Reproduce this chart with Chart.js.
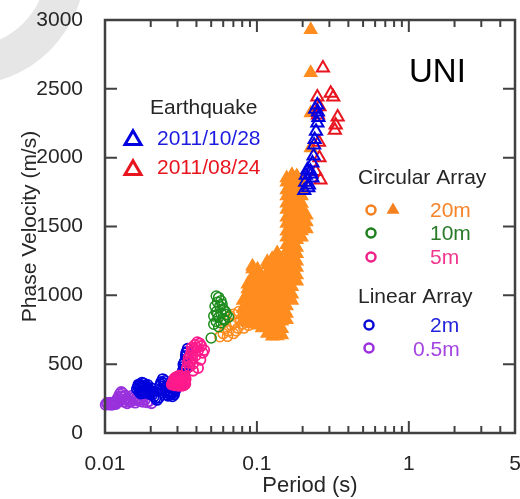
<!DOCTYPE html>
<html>
<head>
<meta charset="utf-8">
<title>UNI phase velocity</title>
<script src="https://cdn.jsdelivr.net/npm/chart.js@4/dist/chart.umd.min.js"></script>
<style>
  html, body { margin: 0; padding: 0; background: #fff; overflow: hidden; }
  #wrap { width: 524px; height: 499px; }
</style>
</head>
<body>
<div id="wrap"><canvas id="chart" width="524" height="499"></canvas></div>
<script>
// Axis ticks
const periodTicks = [0.01, 0.02, 0.03, 0.04, 0.05, 0.06, 0.07, 0.08, 0.09,
                     0.1, 0.2, 0.3, 0.4, 0.5, 0.6, 0.7, 0.8, 0.9, 1, 2, 3, 4, 5];
const periodLabels = [0.01, 0.1, 1, 5];
const velocityTicks = [0, 500, 1000, 1500, 2000, 2500, 3000];

// Legend labels
const quakeDates = ['2011/10/28', '2011/08/24'];
const circularSpacings = ['20m', '10m', '5m'];
const linearSpacings = ['2m', '0.5m'];

// Linear array, 0.5m spacing  [period (s), phase velocity (m/s)]
const linear05m = [[0.0101, 205], [0.0104, 212], [0.0107, 206], [0.011, 218], [0.0113, 210],
  [0.0116, 224], [0.0119, 236], [0.0122, 258], [0.0125, 282], [0.0128, 298], [0.0131, 288],
  [0.0127, 266], [0.0134, 262], [0.0137, 246], [0.0141, 236], [0.0145, 252], [0.0149, 270],
  [0.0153, 256], [0.0157, 240], [0.0162, 250], [0.0167, 236], [0.0172, 246], [0.0177, 226],
  [0.0183, 240], [0.0189, 222], [0.0195, 232], [0.0202, 216], [0.0115, 214], [0.012, 222],
  [0.0108, 220], [0.0124, 230], [0.0133, 226], [0.014, 216], [0.0148, 228], [0.0158, 220],
  [0.0103, 218], [0.0111, 204], [0.0118, 210], [0.0126, 246], [0.0136, 272], [0.0144, 232]];

// Linear array, 2m spacing
const linear2m = [[0.0162, 320], [0.0165, 338], [0.017, 352], [0.0175, 366], [0.018, 360],
  [0.0185, 346], [0.019, 330], [0.0195, 312], [0.0168, 300], [0.0172, 286], [0.0178, 312],
  [0.0183, 296], [0.0188, 322], [0.0193, 290], [0.02, 302], [0.0205, 280], [0.021, 266],
  [0.0215, 254], [0.022, 240], [0.0226, 256], [0.023, 340], [0.0235, 372], [0.024, 392],
  [0.0245, 360], [0.025, 332], [0.0238, 312], [0.0255, 292], [0.026, 270], [0.0266, 286],
  [0.027, 300], [0.0276, 322], [0.028, 302], [0.0285, 280], [0.029, 310], [0.0296, 332],
  [0.0305, 352], [0.032, 420], [0.0325, 452], [0.033, 482], [0.0335, 520], [0.034, 560],
  [0.0345, 590], [0.035, 612], [0.0332, 432], [0.0338, 470], [0.0348, 540],
  [0.0166, 352], [0.0171, 326], [0.0176, 342], [0.0181, 330], [0.0186, 306], [0.0191, 350],
  [0.0174, 300], [0.0179, 290], [0.0197, 282], [0.0202, 326], [0.0208, 300], [0.0232, 356],
  [0.0242, 340], [0.0248, 378], [0.0252, 310], [0.0258, 276], [0.0263, 300], [0.0272, 280],
  [0.0278, 266], [0.0283, 296], [0.0288, 330], [0.0328, 500], [0.0342, 580], [0.0336, 450]];

// Circular array, 5m
const circular5m = [[0.0275, 352], [0.028, 372], [0.0285, 392], [0.029, 402], [0.0295, 382],
  [0.03, 362], [0.0305, 342], [0.031, 372], [0.0315, 396], [0.032, 382], [0.0325, 362],
  [0.033, 346], [0.0335, 372], [0.034, 392], [0.0288, 346], [0.0298, 410], [0.0308, 416],
  [0.0318, 352], [0.0328, 402], [0.0338, 356], [0.0302, 386], [0.0312, 350], [0.0292, 366],
  [0.0322, 410], [0.0283, 380], [0.0296, 352], [0.0306, 398], [0.0316, 368], [0.0326, 386],
  [0.0333, 410], [0.0279, 360], [0.0301, 372], [0.0311, 386], [0.0321, 342],
  [0.0345, 470], [0.035, 512], [0.0355, 546], [0.036, 522], [0.0365, 562],
  [0.037, 592], [0.0375, 542], [0.038, 502], [0.0385, 612], [0.039, 640], [0.04, 622],
  [0.041, 600], [0.042, 650], [0.043, 632], [0.044, 582], [0.045, 602], [0.036, 482],
  [0.0395, 562], [0.041, 472], [0.0425, 532], [0.038, 452], [0.0405, 660], [0.0372, 620]];

// Circular array, 10m
const circular10m = [[0.054, 995], [0.056, 985], [0.058, 960], [0.055, 950], [0.053, 920],
  [0.057, 922], [0.06, 900], [0.054, 880], [0.058, 870], [0.062, 882], [0.052, 850],
  [0.056, 840], [0.06, 830], [0.054, 810], [0.058, 800], [0.063, 860], [0.065, 842],
  [0.052, 790], [0.056, 772], [0.05, 690], [0.061, 820], [0.055, 862], [0.059, 935]];

// Circular array, 20m (circles)
const circular20m = [[0.057, 700], [0.06, 722], [0.062, 760], [0.065, 742], [0.068, 782],
  [0.07, 722], [0.072, 800], [0.075, 762], [0.078, 822], [0.08, 792], [0.083, 850],
  [0.086, 822], [0.09, 872], [0.094, 842], [0.098, 902], [0.102, 882], [0.106, 922],
  [0.11, 962], [0.115, 932], [0.12, 982], [0.125, 902], [0.064, 702], [0.073, 742],
  [0.082, 762], [0.088, 782], [0.096, 802], [0.104, 832], [0.112, 862], [0.062, 822],
  [0.066, 852], [0.07, 862], [0.076, 882], [0.085, 902], [0.092, 932], [0.1, 962], [0.108, 1002]];

// Circular array, 20m (filled triangles): velocities picked at each period
const tri20Periods = [0.081, 0.087, 0.0935, 0.101, 0.108, 0.117, 0.126, 0.136, 0.146,
                      0.157, 0.170, 0.183, 0.197, 0.212, 0.226];
const tri20Velocities = [
  [812, 858, 905, 962],
  [803, 848, 897, 955, 1004, 1046, 1080],
  [792, 843, 886, 938, 992, 1038, 1094, 1138, 1192, 1212],
  [782, 826, 884, 928, 978, 1034, 1077, 1131, 1176, 1190],
  [762, 812, 857, 912, 958, 1013, 1058, 1107, 1122],
  [722, 768, 824, 866, 921, 968, 1024, 1066, 1122, 1168, 1221, 1244],
  [702, 752, 798, 853, 898, 951, 1002, 1048, 1103, 1148, 1204, 1248, 1266],
  [704, 748, 803, 847, 902, 946, 1003, 1047, 1098, 1152, 1197, 1252, 1298, 1308],
  [712, 758, 812, 857, 908, 962, 1006, 1062, 1108, 1163, 1207, 1228],
  [822, 868, 923, 968, 1022, 1067, 1124, 1168, 1222, 1268, 1324, 1368, 1422, 1466,
   1522, 1568, 1624, 1668, 1722, 1766, 1822, 1852],
  [962, 1008, 1063, 1107, 1162, 1208, 1263, 1306, 1362, 1408, 1462, 1507, 1563, 1606,
   1662, 1707, 1762, 1808, 1862, 1876],
  [1102, 1147, 1203, 1248, 1302, 1347, 1404, 1448, 1502, 1548, 1603, 1648, 1702, 1748,
   1802, 1846, 1866],
  [1422, 1468, 1523, 1568, 1622, 1667, 1722, 1768, 1822, 1840],
  [1482, 1533, 1582],
  [2071, 2325, 2616, 2930]
];

// Earthquake records (open triangles)
const quake20111028 = [[0.25, 2382], [0.252, 2332], [0.254, 2292], [0.25, 2252], [0.245, 2192],
  [0.24, 2132], [0.238, 2092], [0.236, 2012], [0.232, 1962], [0.215, 1912], [0.225, 1902],
  [0.21, 1872], [0.232, 1852], [0.208, 1822], [0.22, 1802], [0.205, 1762], [0.218, 1782],
  [0.228, 1882], [0.242, 2352]];
const quake20110824 = [[0.272, 2652], [0.306, 2468], [0.318, 2440], [0.25, 2440], [0.258, 2370],
  [0.34, 2296], [0.33, 2238], [0.326, 2200], [0.258, 2000], [0.262, 1838], [0.252, 2310],
  [0.256, 2112], [0.244, 1900]];

const AXIS = '#404040';
const TEXT = '#262626';
const FONT = 'Liberation Sans, Arial, Helvetica, sans-serif';

const pts = arr => arr.map(([x, y]) => ({ x, y }));
const tri20 = tri20Periods.flatMap((p, i) => tri20Velocities[i].map(v => ({ x: p, y: v })));

function circleSet(data, color, lw) {
  return { data: pts(data), pointStyle: 'circle', pointRadius: 5, borderColor: color,
           backgroundColor: 'rgba(0,0,0,0)', pointBorderWidth: lw || 1.5, clip: false };
}

// triangle helper for the annotation legend
function triangle(ctx, cx, cy, w, color, filled, lw) {
  const h = w * 0.866;
  ctx.beginPath();
  ctx.moveTo(cx, cy - h * 2 / 3);
  ctx.lineTo(cx + w / 2, cy + h / 3);
  ctx.lineTo(cx - w / 2, cy + h / 3);
  ctx.closePath();
  if (filled) { ctx.fillStyle = color; ctx.fill(); }
  else { ctx.strokeStyle = color; ctx.lineWidth = lw; ctx.lineJoin = 'miter'; ctx.stroke(); }
}

function ring(ctx, cx, cy, r, color) {
  ctx.beginPath();
  ctx.arc(cx, cy, r, 0, Math.PI * 2);
  ctx.strokeStyle = color;
  ctx.lineWidth = 2.5;
  ctx.stroke();
}

const frame = {
  id: 'frame',
  beforeDraw(chart) {
    // pale arc in the corner
    const ctx = chart.ctx;
    ctx.save();
    ctx.beginPath();
    ctx.arc(-34, -34, 100, 0, Math.PI / 2);
    ctx.strokeStyle = '#e6e6e6';
    ctx.lineWidth = 38;
    ctx.stroke();
    ctx.restore();
  },
  afterDraw(chart) {
    const { ctx, chartArea: a, scales: { x, y } } = chart;
    ctx.save();
    ctx.strokeStyle = AXIS;
    ctx.lineWidth = 2.5;
    ctx.strokeRect(a.left, a.top, a.right - a.left, a.bottom - a.top);

    ctx.lineWidth = 2;
    ctx.beginPath();
    periodTicks.forEach(v => {
      const px = x.getPixelForValue(v);
      const len = periodLabels.includes(v) && v !== 5 ? 12 : 7;
      ctx.moveTo(px, a.bottom); ctx.lineTo(px, a.bottom - len);
      ctx.moveTo(px, a.top); ctx.lineTo(px, a.top + len);
    });
    velocityTicks.forEach(v => {
      const py = y.getPixelForValue(v);
      ctx.moveTo(a.left, py); ctx.lineTo(a.left + 12, py);
      ctx.moveTo(a.right, py); ctx.lineTo(a.right - 12, py);
    });
    ctx.stroke();

    // annotations
    ctx.textBaseline = 'middle';
    ctx.textAlign = 'left';
    ctx.font = '33px ' + FONT;
    ctx.fillStyle = '#000';
    ctx.fillText('UNI', 409, 73);

    ctx.font = '21px ' + FONT;
    ctx.fillStyle = TEXT;
    ctx.fillText('Earthquake', 150, 108);
    ctx.fillStyle = '#1c1ce0';
    ctx.fillText(quakeDates[0], 157, 139);
    ctx.fillStyle = '#e8141e';
    ctx.fillText(quakeDates[1], 157, 168);
    triangle(ctx, 133, 140, 16, '#0000e0', false, 3);
    triangle(ctx, 133, 170, 16, '#e8141e', false, 3);

    ctx.fillStyle = TEXT;
    ctx.fillText('Circular Array', 358, 178);
    ctx.fillText('Linear Array', 358, 297);

    ring(ctx, 371, 210, 4.5, '#f58020');
    triangle(ctx, 393, 210, 13, '#f58020', true);
    ring(ctx, 371, 233, 4.5, '#1f7f1f');
    ring(ctx, 371, 257, 4.5, '#f0228a');
    ring(ctx, 369, 325, 4.5, '#0a0ad6');
    ring(ctx, 369, 348, 4.5, '#9a30dc');

    ctx.fillStyle = '#f5842a'; ctx.fillText(circularSpacings[0], 430, 211);
    ctx.fillStyle = '#2a7a2a'; ctx.fillText(circularSpacings[1], 430, 234);
    ctx.fillStyle = '#f0368f'; ctx.fillText(circularSpacings[2], 430, 258);
    ctx.fillStyle = '#2424dc'; ctx.fillText(linearSpacings[0], 430, 326);
    ctx.fillStyle = '#a444e0'; ctx.fillText(linearSpacings[1], 413, 350);
    ctx.restore();
  }
};

const tickFont = { family: FONT, size: 21 };

new Chart(document.getElementById('chart'), {
  type: 'scatter',
  data: {
    datasets: [
      { data: pts(quake20111028), pointStyle: 'triangle', pointRadius: 7, borderColor: '#0000e0',
        backgroundColor: 'rgba(0,0,0,0)', pointBorderWidth: 2, clip: false },
      { data: pts(quake20110824), pointStyle: 'triangle', pointRadius: 7, borderColor: '#e8141e',
        backgroundColor: 'rgba(0,0,0,0)', pointBorderWidth: 2, clip: false },
      circleSet(circular5m, '#ff1a8c', 1.8),
      circleSet(linear2m, '#0000dd', 1.8),
      circleSet(linear05m, '#9932dd', 1.8),
      circleSet(circular10m, '#1e8c1e'),
      { data: tri20, pointStyle: 'triangle', pointRadius: 8.5, borderColor: '#ff8c1e',
        backgroundColor: '#ff8c1e', pointBorderWidth: 0, clip: false },
      circleSet(circular20m, '#ff8c1e')
    ]
  },
  options: {
    responsive: false,
    animation: false,
    devicePixelRatio: 1,
    layout: { padding: { left: 0, right: 2, top: 20, bottom: 0 } },
    plugins: { legend: { display: false }, tooltip: { enabled: false } },
    scales: {
      x: {
        type: 'logarithmic',
        min: 0.01,
        max: 5,
        afterBuildTicks: s => { s.ticks = periodLabels.map(v => ({ value: v })); },
        afterFit: s => { s.height = 66; s.paddingLeft = 0; s.paddingRight = 0; },
        grid: { display: false },
        border: { display: false },
        ticks: { font: tickFont, color: TEXT, padding: 11, maxRotation: 0, autoSkip: false,
                 callback: v => String(v) },
        title: { display: true, text: 'Period (s)', color: TEXT,
                 font: { family: FONT, size: 22 }, padding: { top: 0, bottom: 0 } }
      },
      y: {
        min: 0,
        max: 3000,
        afterBuildTicks: s => { s.ticks = velocityTicks.map(v => ({ value: v })); },
        afterFit: s => { s.width = 105; s.paddingTop = 0; s.paddingBottom = 0; },
        grid: { display: false },
        border: { display: false },
        ticks: { font: tickFont, color: TEXT, padding: 14, callback: v => String(v) },
        title: { display: true, text: 'Phase Velocity (m/s)', color: TEXT,
                 font: { family: FONT, size: 21 }, padding: { top: 18, bottom: 0 } }
      }
    }
  },
  plugins: [frame]
});
</script>
</body>
</html>
